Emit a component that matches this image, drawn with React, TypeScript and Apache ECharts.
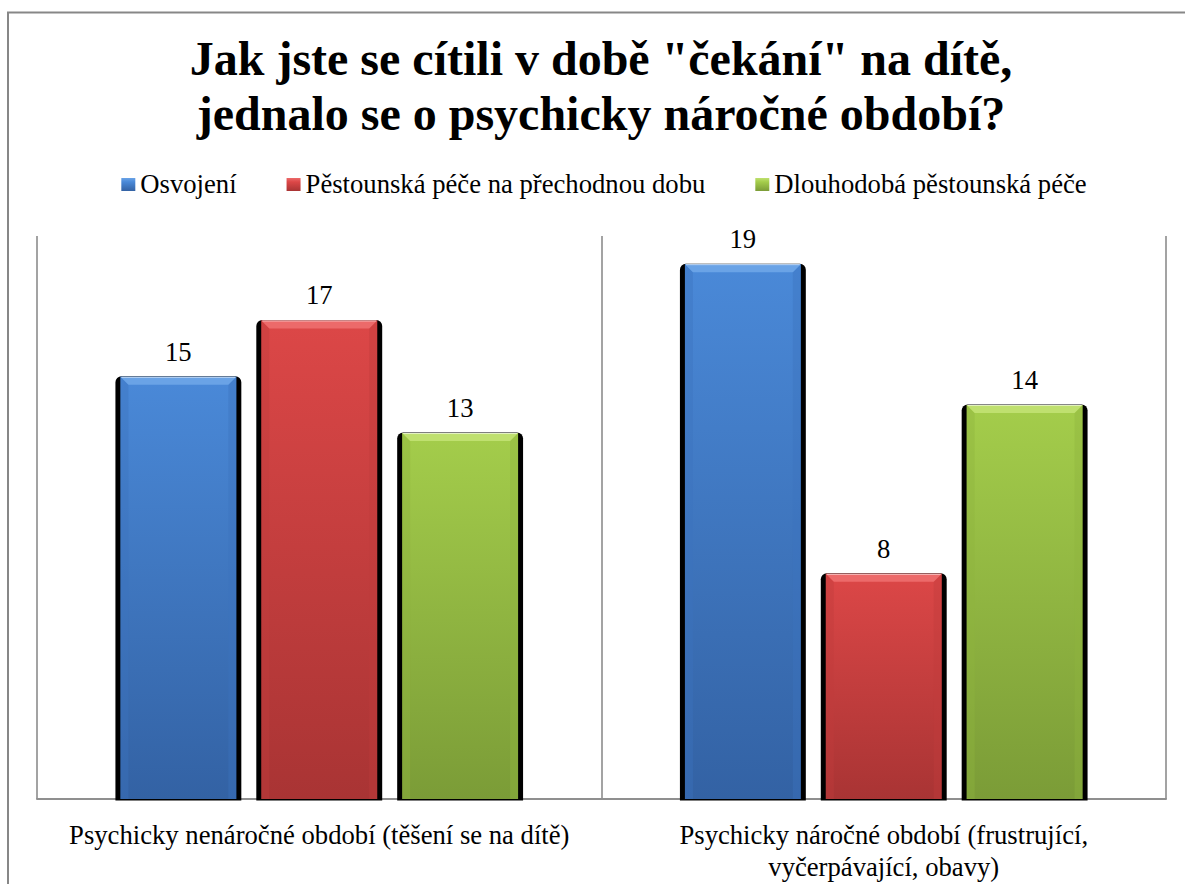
import React, { useEffect, useRef } from "react";
import * as echarts from "echarts";

const titleLines = ['Jak jste se cítili v době "čekání" na dítě,', "jednalo se o psychicky náročné období?"];
const categories = [
  "Psychicky nenáročné období (těšení se na dítě)",
  "Psychicky náročné období (frustrující,\nvyčerpávající, obavy)",
];
const seriesNames = ["Osvojení", "Pěstounská péče na přechodnou dobu", "Dlouhodobá pěstounská péče"];
const osvojeni = [15, 19];
const prechodna = [17, 8];
const dlouhodoba = [13, 14];
const seriesValues = [osvojeni, prechodna, dlouhodoba];

const FONT = "Liberation Serif, Times New Roman, serif";
const PALETTE = [
  { main: "#4482d2", top: "#4a89d8", bottom: "#3362a4", bevelTop: "#6aa3e6", bevelSide: "#3c74bf" },
  { main: "#d44343", top: "#dc4747", bottom: "#a93434", bevelTop: "#ec6a6a", bevelSide: "#c03c3c" },
  { main: "#9cc545", top: "#a4cd4b", bottom: "#7b9c37", bevelTop: "#bfe06f", bevelSide: "#8fb53f" },
];

function makeRender(sIdx: number) {
  return (params: any, api: any) => {
    const ci = api.value(0);
    const v = api.value(1);
    const base = api.coord([ci, 0]);
    const topP = api.coord([ci, v]);
    const band = api.size([1, 0])[0];
    const bw = (band * 116) / 565;
    const pitch = (band * 141) / 565;
    const cx = base[0] + (sIdx - 1) * pitch;
    const x = cx - bw / 2;
    const y = topP[1];
    const h = base[1] - y;
    const c = PALETTE[sIdx];
    const b = 8;
    return {
      type: "group",
      children: [
        {
          type: "rect",
          shape: { x: x - 5, y: y - 0.5, width: bw + 10, height: h + 2, r: [6, 6, 0, 0] },
          style: { fill: "#000" },
        },
        {
          type: "rect",
          shape: { x, y, width: bw, height: h },
          style: {
            fill: new echarts.graphic.LinearGradient(0, 0, 0, 1, [
              { offset: 0, color: c.top },
              { offset: 1, color: c.bottom },
            ]),
          },
        },
        {
          type: "polygon",
          shape: { points: [[x, y], [x + b, y + b], [x + b, y + h], [x, y + h]] },
          style: { fill: c.bevelSide, opacity: 0.4 },
        },
        {
          type: "polygon",
          shape: { points: [[x + bw, y], [x + bw - b, y + b], [x + bw - b, y + h], [x + bw, y + h]] },
          style: { fill: c.bevelSide, opacity: 0.4 },
        },
        {
          type: "polygon",
          shape: { points: [[x, y], [x + bw, y], [x + bw - b, y + b], [x + b, y + b]] },
          style: { fill: c.bevelTop },
        },
        {
          type: "line",
          shape: { x1: x + 1, y1: y + 0.5, x2: x + bw - 1, y2: y + 0.5 },
          style: { stroke: "rgba(255,255,255,0.6)", lineWidth: 1 },
        },
        {
          type: "text",
          style: {
            text: String(v),
            x: cx,
            y: y - 25,
            align: "center",
            verticalAlign: "middle",
            fill: "#000",
            fontFamily: FONT,
            fontSize: 26.67,
          },
        },
      ],
    };
  };
}

function measure(text: string, font: string): number {
  const ctx = document.createElement("canvas").getContext("2d");
  if (!ctx) return text.length * 12;
  ctx.font = font;
  return ctx.measureText(text).width;
}

function buildLegend(): any[] {
  const font = `26.67px ${FONT}`;
  const iconW = 14;
  const iconGap = 5;
  const itemGap = 50;
  const widths = seriesNames.map((n) => measure(n, font));
  const total = widths.reduce((s, w) => s + iconW + iconGap + w, 0) + itemGap * (seriesNames.length - 1);
  let x = 604 - total / 2;
  const out: any[] = [];
  seriesNames.forEach((name, i) => {
    const c = PALETTE[i];
    out.push({
      type: "rect",
      shape: { x, y: 178, width: iconW, height: 13 },
      style: {
        fill: new echarts.graphic.LinearGradient(0, 0, 0, 1, [
          { offset: 0, color: c.bevelTop },
          { offset: 0.3, color: c.top },
          { offset: 1, color: c.bottom },
        ]),
      },
    });
    out.push({
      type: "text",
      x: x + iconW + iconGap,
      y: 170,
      style: {
        text: name,
        align: "left",
        verticalAlign: "top",
        fill: "#000",
        fontFamily: FONT,
        fontSize: 26.67,
      },
    });
    x += iconW + iconGap + widths[i] + itemGap;
  });
  return out;
}

export default function App() {
  const ref = useRef<HTMLDivElement>(null);
  useEffect(() => {
    if (!ref.current) return;
    const chart = echarts.init(ref.current, undefined, { renderer: "svg" });
    chart.setOption({
      animation: false,
      backgroundColor: "#fff",
      graphic: [
        {
          type: "rect",
          shape: { x: 8, y: 12.5, width: 1186, height: 900 },
          style: { fill: "none", stroke: "#878787", lineWidth: 2 },
          z: 100,
        },
        ...titleLines.map((line, i) => ({
          type: "text",
          x: 601,
          y: 34 + i * 55,
          style: {
            text: line,
            align: "center",
            verticalAlign: "top",
            fill: "#000",
            fontFamily: FONT,
            fontSize: 48,
            fontWeight: "bold",
          },
        })),
        ...buildLegend(),
      ],
      grid: { left: 37, right: 36, top: 236, bottom: 101 },
      xAxis: {
        type: "category",
        data: categories,
        axisLine: { lineStyle: { color: "#8f8f8f", width: 2 } },
        axisTick: { show: false },
        splitLine: { show: true, lineStyle: { color: "#a3a3a3", width: 2 } },
        axisLabel: {
          interval: 0,
          margin: 20,
          fontFamily: FONT,
          fontSize: 26.67,
          lineHeight: 32,
          color: "#000",
        },
      },
      yAxis: { type: "value", min: 0, max: 20, show: false },
      series: seriesNames.map((name, i) => ({
        type: "custom",
        name,
        itemStyle: { color: PALETTE[i].main },
        renderItem: makeRender(i),
        encode: { x: 0, y: 1 },
        data: seriesValues[i].map((v, ci) => [ci, v]),
      })),
    });
    return () => chart.dispose();
  }, []);
  return (
    <div style={{ position: "fixed", left: 0, top: 0, width: 1185, height: 884, overflow: "hidden", background: "#fff" }}>
      <div ref={ref} style={{ width: 1202, height: 900 }} />
    </div>
  );
}
